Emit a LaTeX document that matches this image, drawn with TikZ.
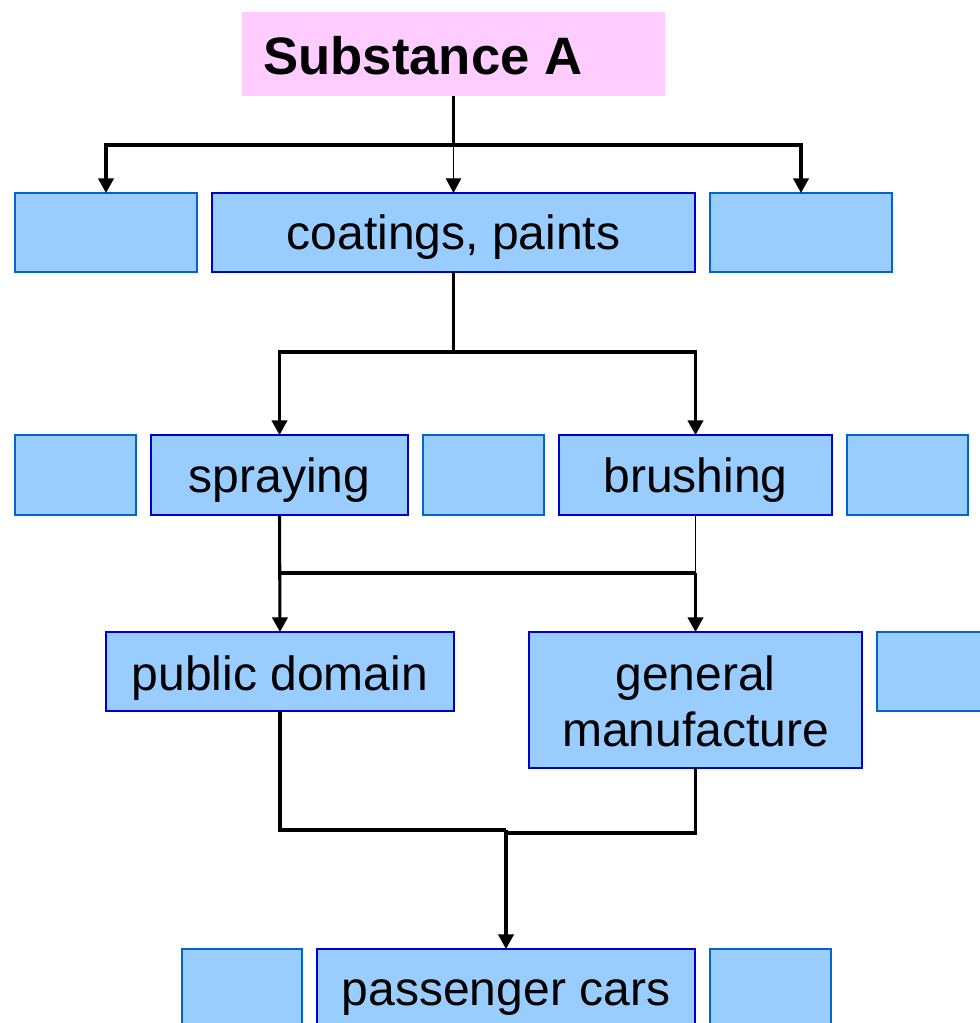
\documentclass[tikz,border=0pt]{standalone}
\usepackage{fontspec}
\setmainfont{Liberation Sans}
\usetikzlibrary{arrows.meta}

\definecolor{boxfill}{HTML}{99CCFF}
\definecolor{boxline}{HTML}{0000CC}
\definecolor{blankline}{HTML}{0066CC}
\definecolor{topfill}{HTML}{FFCCFF}

% box node from its corner coordinates: style, name, x1, y1, x2, y2
\newcommand\cornerbox[6]{%
  \node[#1, minimum width={(#5-#3)*0.75pt}, minimum height={(#6-#4)*0.75pt}]
    (#2) at ({(#3+#5)/2},{(#4+#6)/2}) {};}

\begin{document}
\begin{tikzpicture}[x=0.75pt, y=-0.75pt,
  basebox/.style={rectangle, inner sep=0pt, outer sep=0pt, fill=boxfill, line width=1.2pt},
  textbox/.style={basebox, draw=boxline},
  blankbox/.style={basebox, draw=blankline},
  topbox/.style={rectangle, inner sep=0pt, outer sep=0pt, fill=topfill},
  lbl/.style={inner sep=0pt, font=\fontsize{36pt}{42pt}\selectfont, align=center},
  wire/.style={line width=2.3pt},
  thinwire/.style={line width=0.9pt},
  arr/.style={-{Triangle[length=11pt, width=11.5pt]}}]

\useasboundingbox (0,0) rectangle (980,1023);
\clip (0,0) rectangle (980,1023);

% top level
\cornerbox{topbox}{subst}{242}{12}{665}{96}
\node[inner sep=0pt, anchor=base west, font=\fontsize{39.5pt}{47pt}\selectfont\bfseries]
  (substlbl) at (263,75) {Substance A};

% first row
\cornerbox{blankbox}{r1a}{15}{193}{197}{272}
\cornerbox{textbox}{coat}{212}{193}{695}{272}
\cornerbox{blankbox}{r1c}{710}{193}{892}{272}
\node[lbl, anchor=base] (coatlbl) at (453.5,250) {coatings, paints};

% second row
\cornerbox{blankbox}{r2a}{15}{435}{136}{515}
\cornerbox{textbox}{spray}{151}{435}{408}{515}
\cornerbox{blankbox}{r2m}{423}{435}{544}{515}
\cornerbox{textbox}{brush}{559}{435}{832}{515}
\cornerbox{blankbox}{r2e}{847}{435}{968}{515}
\node[lbl, anchor=base] (spraylbl) at (279.5,492) {spraying};
\node[lbl, anchor=base] (brushlbl) at (695.5,492) {brushing};

% third row
\cornerbox{textbox}{pub}{106}{632}{454}{711}
\cornerbox{textbox}{gen}{529}{632}{862}{768}
\cornerbox{blankbox}{r3e}{877}{632}{1000}{711}
\node[lbl, anchor=base] (publbl) at (280,690) {public domain};
\node[lbl] (genlbl) at (695.5,701) {general\\manufacture};

% fourth row
\cornerbox{blankbox}{r4a}{182}{949}{302}{1040}
\cornerbox{textbox}{pass}{317}{949}{695}{1040}
\cornerbox{blankbox}{r4c}{710}{949}{831}{1040}
\node[lbl, anchor=base] (passlbl) at (506,1005) {passenger cars};

% junction points
\coordinate (j1) at (453.5,145);
\coordinate (j2) at (453.5,352);
\coordinate (j3) at (695.5,573);
\coordinate (j4a) at (506,830);
\coordinate (j4b) at (506,833);

% Substance A to first row
\draw[wire] (subst.south) -- (j1);
\draw[wire, arr] (j1) -| (r1a.north);
\draw[wire, arr] (j1) -| (r1c.north);
\draw[thinwire, arr] (j1) -- (coat.north);

% coatings to application methods
\draw[wire] (coat.south) -- (j2);
\draw[wire, arr] (j2) -| (spray.north);
\draw[wire, arr] (j2) -| (brush.north);

% application methods to sectors
\draw[wire, arr] (spray.south) -- (pub.north);
\draw[thinwire] (brush.south) -- (j3);
\draw[wire] (spray.south |- j3) -- (j3);
\draw[wire, arr] (j3) -- (gen.north);

% sectors to passenger cars
\draw[wire] (pub.south) |- (j4a);
\draw[wire] (gen.south) |- (j4b);
\draw[wire, arr] (j4a) -- (pass.north);
\end{tikzpicture}
\end{document}
